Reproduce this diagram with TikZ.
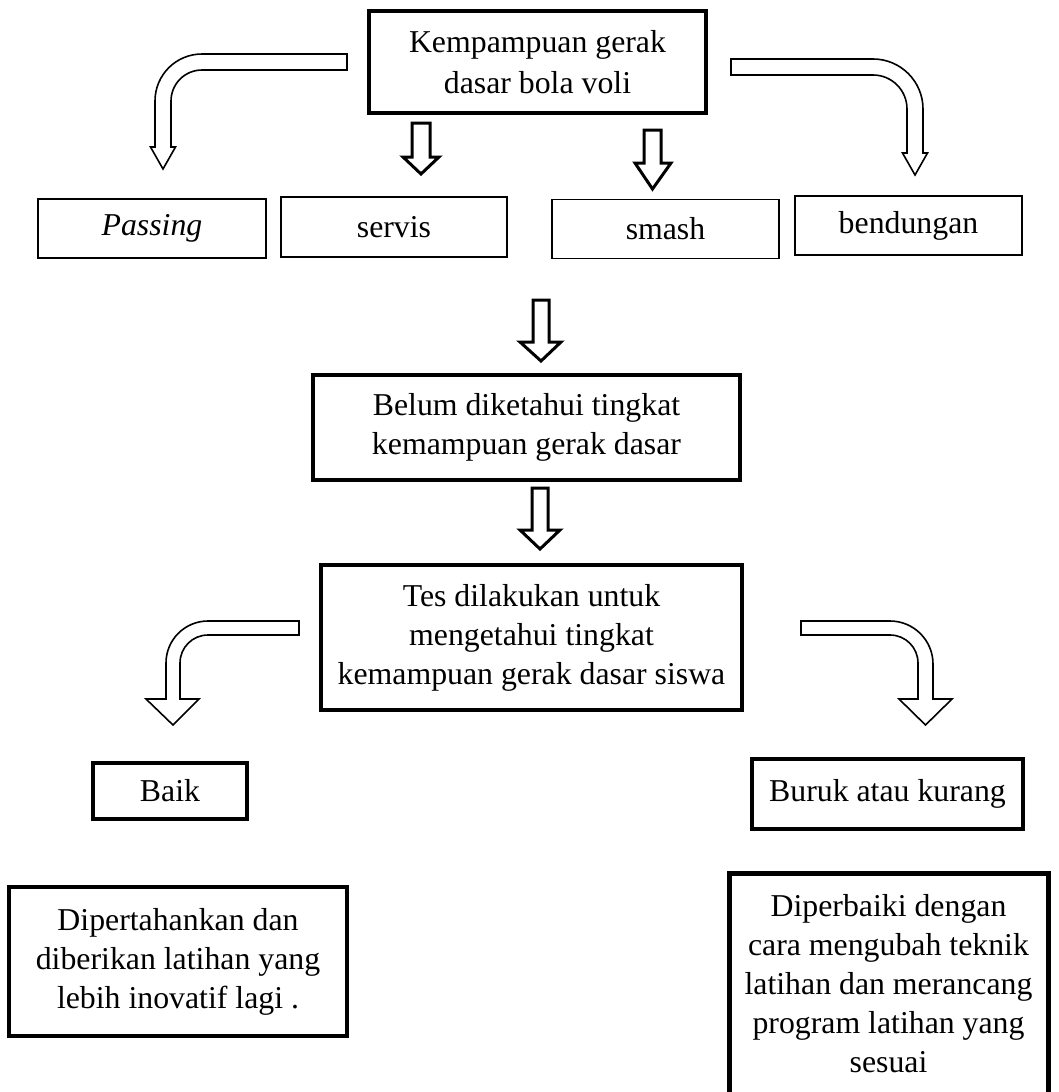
\documentclass[tikz,border=0pt]{standalone}
\usepackage{fontspec}
\setmainfont{Liberation Serif}
\begin{document}
\begin{tikzpicture}[x=1pt,y=-1pt,
  every node/.style={inner sep=0pt,align=center,font=\fontsize{31.8}{39}\selectfont},
  thickbox/.style={draw,line width=4pt},
  thinbox/.style={draw,line width=1.6pt},
  bentarrow/.style={draw,line width=1.6pt,fill=white,line join=miter},
  downarrow/.style={draw,line width=3pt,fill=white,line join=miter}]
\useasboundingbox (0,0) rectangle (1059,1092);
% boxes
\node[thickbox,minimum width=337pt,minimum height=102pt,font=\fontsize{31.8}{41.5}\selectfont] (top) at (537.5,62) {Kempampuan gerak\\dasar bola voli};
\node[thinbox,minimum width=228pt,minimum height=59pt] (pass) at (152,228.5) {\itshape Passing};
\node[thinbox,minimum width=226pt,minimum height=60pt] (serv) at (394,227) {servis};
\node[thinbox,minimum width=227pt,minimum height=59pt] (smash) at (665.5,229) {smash};
\node[thinbox,minimum width=227pt,minimum height=59pt] (bend) at (908.5,225.5) {bendungan};
\node[thickbox,minimum width=427pt,minimum height=105pt] (belum) at (526.5,427.5) {Belum diketahui tingkat\\kemampuan gerak dasar};
\node[thickbox,minimum width=421pt,minimum height=145pt] (tes) at (531.5,637.5) {Tes dilakukan untuk\\mengetahui tingkat\\kemampuan gerak dasar siswa};
\node[draw,line width=3.5pt,minimum width=154pt,minimum height=56pt] (baik) at (170,791) {Baik};
\node[thickbox,minimum width=271pt,minimum height=70pt] (buruk) at (887.5,794) {Buruk atau kurang};
\node[thickbox,minimum width=338pt,minimum height=149pt] (pert) at (178,961.5) {Dipertahankan dan\\diberikan latihan yang\\lebih inovatif lagi .};
\node[draw,line width=5pt,minimum width=319pt,minimum height=222pt] (perb) at (888.5,984) {Diperbaiki dengan\\cara mengubah teknik\\latihan dan merancang\\program latihan yang\\sesuai};
% bent arrows
\draw[bentarrow] (347,54) -- (202,54) .. controls (176,54) and (155,75) .. (155,101) -- (155,147) -- (150.5,147) -- (163,169) -- (175.5,147) -- (171,147) -- (171,101) .. controls (171,83.9) and (184.9,70) .. (202,70) -- (347,70) -- cycle;
\draw[bentarrow] (731,59) -- (873,59) .. controls (900.6,59) and (923,81.4) .. (923,109) -- (923,153) -- (927.5,153) -- (915,175) -- (902.5,153) -- (907,153) -- (907,109) .. controls (907,90.2) and (891.8,75) .. (873,75) -- (731,75) -- cycle;
\draw[bentarrow] (299,621) -- (208,621) .. controls (184.8,621) and (166,639.8) .. (166,663) -- (166,699) -- (146,699) -- (173,725) -- (199,699) -- (180,699) -- (180,663) .. controls (180,647.5) and (192.5,635) .. (208,635) -- (299,635) -- cycle;
\draw[bentarrow] (801,621) -- (890,621) .. controls (913.7,621) and (933,640.3) .. (933,664) -- (933,699) -- (952,699) -- (925.5,725) -- (899,699) -- (918,699) -- (918,663) .. controls (918,647.5) and (905.5,635) .. (890,635) -- (801,635) -- cycle;
% straight block arrows
\draw[downarrow] (412,123) -- (430,123) -- (430,157) -- (439,157) -- (421,174) -- (403,157) -- (412,157) -- cycle;
\draw[downarrow] (644,130) -- (661,130) -- (661,163) -- (671,163) -- (652.5,189) -- (635,163) -- (644,163) -- cycle;
\draw[downarrow] (533,300) -- (549,300) -- (549,342) -- (561,342) -- (541,361) -- (520,342) -- (533,342) -- cycle;
\draw[downarrow] (532,488) -- (548,488) -- (548,530) -- (560,530) -- (540,549) -- (520,530) -- (532,530) -- cycle;
\end{tikzpicture}
\end{document}
